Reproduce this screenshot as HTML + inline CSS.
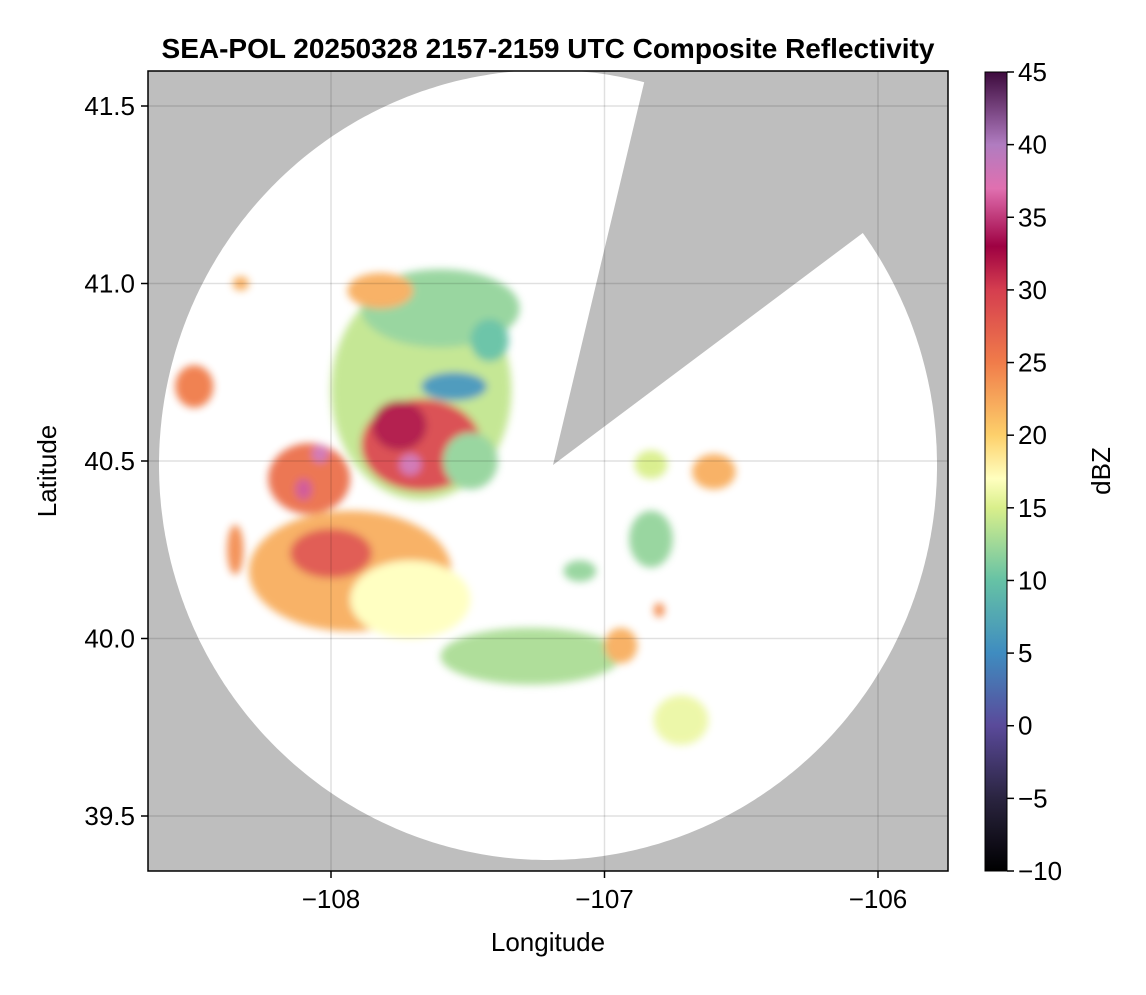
<!DOCTYPE html>
<html><head><meta charset="utf-8"><style>
body{margin:0;background:#fff;font-family:"Liberation Sans",sans-serif}
</style></head><body>
<svg id="chart" width="1146" height="990" xmlns="http://www.w3.org/2000/svg" font-family="Liberation Sans, sans-serif">
<defs>
<clipPath id="plotclip"><rect x="148" y="71" width="800" height="800"/></clipPath>
<clipPath id="diskclip"><path id="diskpath" d=""/></clipPath>
<filter id="blur"><feGaussianBlur stdDeviation="4"/></filter>
<linearGradient id="cbar" x1="0" y1="1" x2="0" y2="0"></linearGradient>
</defs>
<text x="548" y="58" text-anchor="middle" font-size="28" font-weight="bold">SEA-POL 20250328 2157-2159 UTC Composite Reflectivity</text>
<rect x="148" y="71" width="800" height="800" fill="#bebebe"/>
<g clip-path="url(#plotclip)">
<path id="disk" fill="#fff" d=""/>
<g id="cells" clip-path="url(#diskclip)" filter="url(#blur)" opacity="0.95"></g>
<g id="grid"></g>
</g>
<rect x="148" y="71" width="800" height="800" fill="none" stroke="#000" stroke-width="1.5"/>
<g id="axes"></g>
<text x="548" y="951" text-anchor="middle" font-size="26">Longitude</text>
<text x="56" y="471" text-anchor="middle" font-size="26" transform="rotate(-90 56 471)">Latitude</text>
<rect x="985" y="72" width="22" height="799" fill="url(#cbar)" stroke="#000" stroke-width="1"/>
<g id="cbticks"></g>
<text x="1110" y="471" text-anchor="middle" font-size="26" transform="rotate(-90 1110 471)">dBZ</text>
</svg>
<script>
const lonTicks=[-108,-107,-106];
const latTicks=[39.5,40.0,40.5,41.0,41.5];
const cbTicks=[-10,-5,0,5,10,15,20,25,30,35,40,45];
const cellLon=[-107.67,-107.60,-107.82,-107.55,-107.67,-107.75,-107.71,-108.08,-108.04,-108.10,-107.93,-108.0,-107.71,-108.5,-108.33,-108.35,-107.27,-106.94,-106.83,-106.6,-106.83,-106.72,-107.09,-106.8,-107.42,-107.49];
const cellLat=[40.70,40.93,40.98,40.71,40.545,40.60,40.49,40.45,40.52,40.42,40.19,40.24,40.11,40.71,41.0,40.25,39.95,39.98,40.49,40.47,40.28,39.77,40.19,40.08,40.84,40.5];
const cellRx=[0.33,0.29,0.12,0.12,0.22,0.1,0.04,0.15,0.03,0.03,0.37,0.15,0.22,0.07,0.03,0.03,0.33,0.06,0.06,0.08,0.08,0.1,0.06,0.02,0.07,0.1];
const cellRy=[0.31,0.11,0.05,0.04,0.13,0.07,0.03,0.1,0.025,0.03,0.17,0.07,0.11,0.06,0.02,0.07,0.08,0.05,0.04,0.05,0.08,0.07,0.03,0.02,0.06,0.08];
const cellDbz=[14,12,22,6,29,32,38,26,38,36,22,28,17,25,22,24,13,22,15,22,12,16,12,24,10,12];
const cmapVals=[-10,-5,0,5,10,15,17,20,25,30,33,37,40,45];
const cmapCols=["#000000","#2a2440","#5a4a9a","#3f8cc0","#66c2a5","#d9ef8b","#ffffbf","#fdd06b","#f07c4a","#d53e4f","#9e0142","#e070b0","#b07cc0","#3d0a3d"];
const NS="http://www.w3.org/2000/svg";
const xs=l=>331+(l+108)*273.5, ys=a=>106+(41.5-a)*355;
const cy=v=>871-(v+10)*(799/55);
function mk(t,a,p){const e=document.createElementNS(NS,t);for(const k in a)e.setAttribute(k,a[k]);p.appendChild(e);return e;}
function hex(h){return [1,3,5].map(i=>parseInt(h.substr(i,2),16));}
function col(v){for(let i=0;i<cmapVals.length-1;i++){if(v<=cmapVals[i+1]){const t=(v-cmapVals[i])/(cmapVals[i+1]-cmapVals[i]);const a=hex(cmapCols[i]),b=hex(cmapCols[i+1]);return "rgb("+a.map((c,j)=>Math.round(c+(b[j]-c)*t)).join(",")+")";}}return cmapCols[cmapCols.length-1];}
// disk with wedge
const cx0=548,cy0=465,rx=389,ry=395,ax=553,ay=465;
const a1=Math.atan2(97-cy0,645-cx0), a2=Math.atan2(240-cy0,858-cx0);
let d="M"+ax+","+ay;
for(let a=a2;a<=a1+2*Math.PI+1e-6;a+=0.01){d+=" L"+(cx0+rx*Math.cos(a)).toFixed(1)+","+(cy0+ry*Math.sin(a)).toFixed(1);}
d+=" Z";
document.getElementById('disk').setAttribute('d',d);
document.getElementById('diskpath').setAttribute('d',d);
const cells=document.getElementById('cells');
for(let i=0;i<cellLon.length;i++){
 const e=mk('ellipse',{cx:xs(cellLon[i]),cy:ys(cellLat[i]),rx:cellRx[i]*273.5,ry:cellRy[i]*355,fill:col(cellDbz[i])},cells);
 
 
}
const grid=document.getElementById('grid'),axes=document.getElementById('axes');
lonTicks.forEach(l=>{const x=xs(l);
 mk('line',{x1:x,x2:x,y1:71,y2:871,stroke:"rgba(0,0,0,0.12)","stroke-width":1.5},grid);
 mk('line',{x1:x,x2:x,y1:871,y2:878,stroke:"#000","stroke-width":1.5},axes);
 const t=mk('text',{x:x,y:908,"text-anchor":"middle","font-size":26},axes);t.textContent="\u2212"+Math.abs(l);
 
 });
latTicks.forEach(a=>{const y=ys(a);
 mk('line',{x1:148,x2:948,y1:y,y2:y,stroke:"rgba(0,0,0,0.12)","stroke-width":1.5},grid);
 mk('line',{x1:141,x2:148,y1:y,y2:y,stroke:"#000","stroke-width":1.5},axes);
 const t=mk('text',{x:135,y:y+9,"text-anchor":"end","font-size":26},axes);t.textContent=a.toFixed(1);
 
 });
const g=document.getElementById('cbar');
for(let v=-10;v<=45;v+=1){mk('stop',{offset:((v+10)/55).toFixed(4),"stop-color":col(v)},g);}
const cb=document.getElementById('cbticks');
cbTicks.forEach(v=>{const y=cy(v);
 mk('line',{x1:1007,x2:1014,y1:y,y2:y,stroke:"#000","stroke-width":1.5},cb);
 const t=mk('text',{x:1018,y:y+9,"font-size":26},cb);t.textContent=(v<0?"\u2212"+Math.abs(v):v);
 
 });
</script>
</body></html>
